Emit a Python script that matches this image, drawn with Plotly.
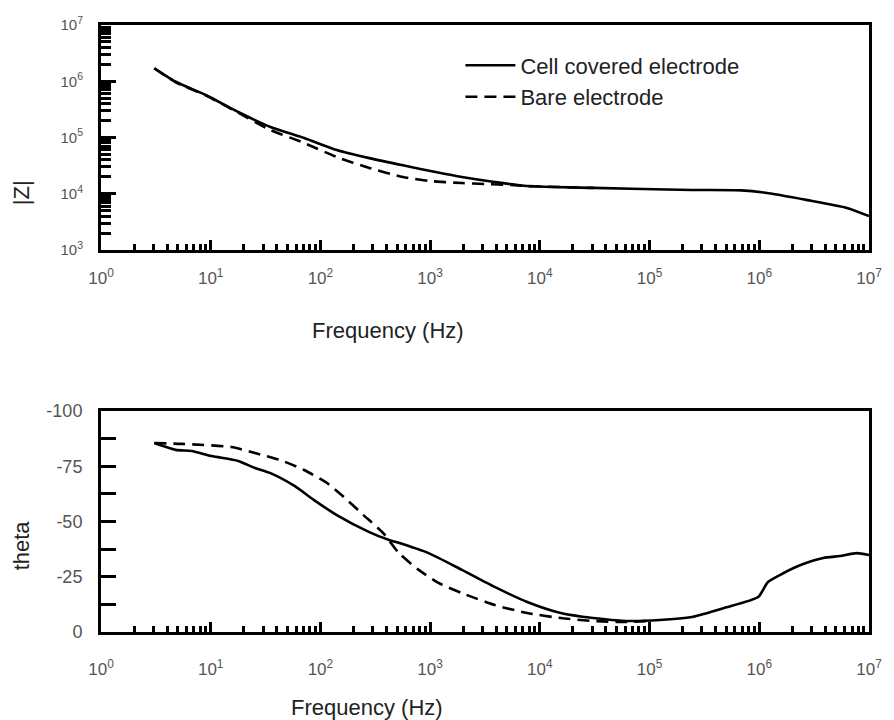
import plotly.graph_objects as go

# ---------------- data ----------------
cell_z_freq = [3.06, 4.8, 9.0, 17.8, 35, 71, 141, 279, 565, 1120, 1950, 3870, 7670,
               30700, 244000, 686000, 1100000, 2750000, 6300000, 10000000]
cell_z_val = [1.70e6, 9.8e5, 5.7e5, 2.84e5, 1.54e5, 9.8e4, 6.0e4, 4.3e4, 3.2e4, 2.44e4,
              1.99e4, 1.62e4, 1.37e4, 1.27e4, 1.17e4, 1.15e4, 1.05e4, 7.7e3, 5.6e3, 4.0e3]

bare_z_freq = [3.06, 4.8, 9.0, 17.8, 35, 71, 141, 279, 565, 968, 1950, 3150, 5510, 7670, 30700]
bare_z_val = [1.70e6, 9.6e5, 5.6e5, 2.77e5, 1.36e5, 8.0e4, 4.5e4, 2.87e4, 1.99e4, 1.69e4,
              1.55e4, 1.49e4, 1.43e4, 1.37e4, 1.27e4]

cell_t_freq = [3.06, 4.8, 6.7, 10.2, 17.8, 25.3, 35, 58, 87.5, 141, 279, 423, 489, 968,
               1950, 3870, 7670, 15500, 30700, 60800, 123000, 244000, 480000, 975000,
               1200000, 1670000, 2380000, 3830000, 5440000, 7730000, 10000000]
cell_t_val = [-85.5, -82.4, -81.9, -79.6, -77.4, -74.2, -71.9, -66.1, -59.7, -52.9, -45.2,
              -41.6, -40.7, -35.7, -28.1, -20.4, -13.6, -8.6, -6.3, -5.0, -5.4, -6.8,
              -10.9, -15.8, -22.6, -26.7, -30.3, -33.5, -34.4, -35.7, -34.8]

bare_t_freq = [3.06, 5.5, 15.4, 25.3, 43, 71, 115, 163, 247, 373, 520, 787, 1190, 1950,
               3870, 7670, 15500, 30700, 60800, 100000]
bare_t_val = [-85.5, -85.1, -83.7, -81.0, -77.8, -73.3, -67.4, -61.1, -52.9, -44.8, -35.7,
              -28.1, -22.2, -17.6, -12.2, -8.6, -6.3, -5.0, -4.5, -5.0]

x_tick_vals = [10 ** k for k in range(0, 8)]
x_tick_text = ["10<sup>%d</sup>" % k for k in range(0, 8)]
z_tick_vals = [10 ** k for k in range(3, 8)]
z_tick_text = ["10<sup>%d</sup>" % k for k in range(3, 8)]
t_tick_vals = [-100, -75, -50, -25, 0]
t_tick_text = ["-100", "-75", "-50", "-25", "0"]

series_names = ["Cell covered electrode", "Bare electrode"]

# ---------------- figure ----------------
FONT = "Liberation Sans, Arial, sans-serif"
fig = go.Figure()

solid = dict(color="black", width=2.6)
dashed = dict(color="black", width=2.6, dash="12px,7px")

fig.add_trace(go.Scatter(x=cell_z_freq, y=cell_z_val, mode="lines", name=series_names[0],
                         line=dict(**solid, shape="spline", smoothing=0.6),
                         xaxis="x", yaxis="y"))
fig.add_trace(go.Scatter(x=bare_z_freq, y=bare_z_val, mode="lines", name=series_names[1],
                         line=dict(**dashed, shape="spline", smoothing=0.6),
                         xaxis="x", yaxis="y"))
fig.add_trace(go.Scatter(x=cell_t_freq, y=cell_t_val, mode="lines", showlegend=False,
                         line=dict(**solid, shape="spline", smoothing=0.6),
                         xaxis="x2", yaxis="y2"))
fig.add_trace(go.Scatter(x=bare_t_freq, y=bare_t_val, mode="lines", showlegend=False,
                         line=dict(**dashed, shape="spline", smoothing=0.6),
                         xaxis="x2", yaxis="y2"))

minor_x = [m * 10 ** d for d in range(0, 7) for m in range(2, 10)]
minor_z = [m * 10 ** d for d in range(3, 7) for m in range(2, 10)]
minor_t = [-87.5, -62.5, -37.5, -12.5]

xtickfont = dict(family=FONT, size=17, color="#555555")

def xaxis_cfg(anchor, standoff):
    return dict(type="log", range=[0, 7], anchor=anchor, domain=[0, 1],
                showline=True, linecolor="black", linewidth=3, mirror=True,
                showgrid=False, zeroline=False,
                tickmode="array", tickvals=x_tick_vals, ticktext=x_tick_text,
                ticks="inside", ticklen=10, tickwidth=2.5, tickcolor="black",
                ticklabelstandoff=standoff, tickfont=xtickfont,
                minor=dict(tickmode="array", tickvals=minor_x, ticks="inside",
                           ticklen=6, tickwidth=2.5, tickcolor="black", showgrid=False))

fig.update_layout(
    width=894, height=720,
    margin=dict(l=101, r=15, t=25, b=88),
    paper_bgcolor="white", plot_bgcolor="white",
    font=dict(family=FONT, color="#222222"),
    showlegend=True,
    legend=dict(x=0.468, y=0.968, xanchor="left", yanchor="top",
                bgcolor="rgba(0,0,0,0)", itemwidth=50,
                font=dict(family=FONT, size=22, color="#222222"),
                tracegroupgap=0),
    xaxis=xaxis_cfg("y", 11),
    xaxis2=xaxis_cfg("y2", 20),
    yaxis=dict(type="log", range=[3, 7], domain=[0.6293, 1], anchor="x",
               showline=True, linecolor="black", linewidth=3, mirror=True,
               showgrid=False, zeroline=False,
               tickmode="array", tickvals=z_tick_vals, ticktext=z_tick_text,
               ticks="inside", ticklen=15, tickwidth=2.5, tickcolor="black",
               ticklabelstandoff=12, tickfont=dict(family=FONT, size=15, color="#555555"),
               minor=dict(tickmode="array", tickvals=minor_z, ticks="inside",
                          ticklen=10, tickwidth=2.5, tickcolor="black", showgrid=False)),
    yaxis2=dict(range=[0, -100], domain=[0, 0.3641], anchor="x2",
                showline=True, linecolor="black", linewidth=3, mirror=True,
                showgrid=False, zeroline=False,
                tickmode="array", tickvals=t_tick_vals, ticktext=t_tick_text,
                ticks="inside", ticklen=15, tickwidth=2.5, tickcolor="black",
                ticklabelstandoff=12, tickfont=dict(family=FONT, size=18, color="#555555"),
                minor=dict(tickmode="array", tickvals=minor_t, ticks="inside",
                           ticklen=15, tickwidth=2.5, tickcolor="black", showgrid=False)),
)

title_font = dict(family=FONT, size=22, color="#222222")
fig.add_annotation(text="Frequency (Hz)", xref="paper", yref="paper", x=0.374, y=0.4975,
                   showarrow=False, font=title_font, xanchor="center", yanchor="middle")
fig.add_annotation(text="Frequency (Hz)", xref="paper", yref="paper", x=0.347, y=-0.125,
                   showarrow=False, font=title_font, xanchor="center", yanchor="middle")
fig.add_annotation(text="|Z|", xref="paper", yref="paper", x=-0.104, y=0.723,
                   showarrow=False, font=title_font, textangle=-90,
                   xanchor="center", yanchor="middle")
fig.add_annotation(text="theta", xref="paper", yref="paper", x=-0.104, y=0.143,
                   showarrow=False, font=title_font, textangle=-90,
                   xanchor="center", yanchor="middle")

fig.write_html("out.html")
